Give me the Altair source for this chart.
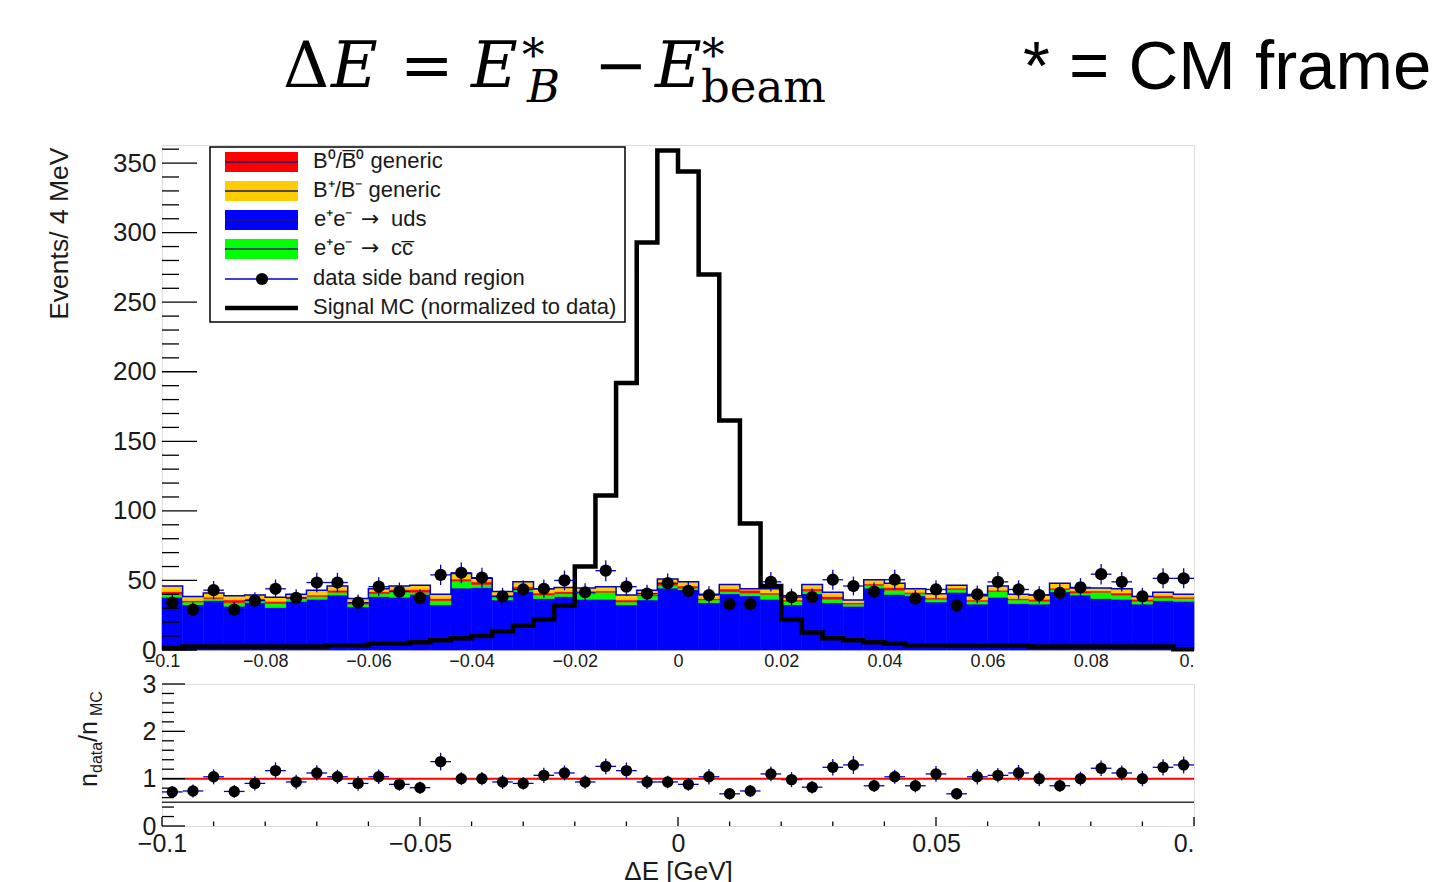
import altair as alt
import numpy as np
import pandas as pd

# ------------------------------------------------------------------ data
BIN_WIDTH = 0.004
bin_lo = [round(-0.1 + BIN_WIDTH * i, 3) for i in range(50)]

# stacked MC backgrounds (events / 4 MeV)
uds = [38, 32.5, 35.5, 31.5, 34, 30.5, 35, 36.5, 39.5, 31,
       38.5, 38, 40, 32.5, 44.5, 45, 36, 42, 37, 38.5,
       36.5, 36.5, 32.5, 36, 44.5, 43, 34, 40.5, 39, 36.5,
       32.5, 40.5, 34, 31.5, 44.5, 40, 39, 34.5, 41.5, 33,
       38, 33.5, 33, 41.5, 39.5, 37, 36.5, 33, 35.5, 35]
ccbar = [2, 2, 1.5, 2.5, 2, 3, 2, 2, 2, 2,
         2, 4, 1.5, 3, 5, 2, 2, 2, 2.5, 2,
         4, 5, 2, 3, 2, 1.5, 2, 1.5, 2, 3.5,
         2.5, 2, 2.5, 1.5, 2, 3, 1.5, 2, 2, 2,
         4, 2.5, 2, 2, 1.5, 4.5, 3, 2, 2, 2]
b0_generic = [2, 1, 1, 2, 1, 1.5, 1, 1, 1.5, 1.5,
              1.5, 1.5, 2, 1.5, 1.5, 2, 1.5, 1.5, 1.5, 1.5,
              1, 1, 1.5, 1, 1.5, 1.5, 1, 2, 2, 1,
              1, 1.5, 2, 1, 1, 2, 1, 1, 1, 1,
              1, 1, 1.5, 1, 1.5, 1, 1.5, 1.5, 1.5, 1]
bplus_generic = [4, 3, 3, 3, 2.5, 3, 2, 3.5, 3, 2.5,
                 2, 2.5, 3, 3, 4, 2.5, 2.5, 3.5, 3, 3,
                 3, 3, 3.5, 3, 3, 3, 3, 3, 1, 3,
                 3, 3, 3, 2, 3, 3, 2.5, 3, 2, 3,
                 3, 3, 3, 3.5, 2, 2, 3, 2, 2.5, 2]

# data side band
data_counts = [34, 29, 43, 29, 35.5, 44, 37.5, 48.5, 48.5, 34,
               45.5, 42, 37.5, 54, 55.5, 52, 38.5, 43.5, 44, 50,
               41.5, 57, 45.5, 40.5, 48, 42.5, 39.5, 33, 33, 49,
               38, 38, 50.5, 46, 42, 50.5, 37, 43.5, 32, 40,
               49, 43.5, 39.5, 41, 45, 54.5, 49, 38.5, 51.5, 51.5]

# signal MC (normalized to data)
signal_mc = [1.5, 2.5, 2.5, 2.5, 2.5, 2.5, 2.5, 2.5, 3.5, 3.5,
             4.5, 4.5, 5.5, 7, 8.5, 10, 13.5, 17.5, 22, 32,
             60, 111, 192, 293, 359, 344, 270, 165, 91, 46,
             22, 12.5, 8.5, 7, 5.5, 4.5, 3.5, 3.5, 3, 3,
             3, 3, 2.5, 2.5, 2.5, 2.5, 2.5, 2.5, 2.5, 0.5]

# ratio n_data / n_MC
ratio_vals = [0.72, 0.74, 1.04, 0.73, 0.90, 1.17, 0.93, 1.12, 1.04, 0.90,
              1.04, 0.88, 0.81, 1.36, 1.00, 1.00, 0.93, 0.90, 1.07, 1.12,
              0.93, 1.26, 1.17, 0.93, 0.93, 0.88, 1.04, 0.68, 0.74, 1.10,
              0.98, 0.82, 1.24, 1.29, 0.85, 1.04, 0.85, 1.10, 0.68, 1.04,
              1.07, 1.12, 1.00, 0.85, 1.00, 1.22, 1.12, 1.00, 1.24, 1.29]

comp_names = ["uds", "ccbar", "b0", "bplus"]
comp_colors = ["#0000ff", "#00ff00", "#ff0000", "#ffcc00"]
comp_values = [uds, ccbar, b0_generic, bplus_generic]

legend_labels = ["B\u2070/B\u0305\u2070 generic", "B\u207a/B\u207b generic",
                 "e\u207ae\u207b \u2192 uds", "e\u207ae\u207b \u2192 cc\u0305",
                 "data side band region", "Signal MC (normalized to data)"]
legend_colors = ["#ff0000", "#ffcc00", "#0000ff", "#00ff00"]

main_y_ticks = [0, 50, 100, 150, 200, 250, 300, 350]
main_y_minor = [v for v in range(0, 361, 10) if v % 50 != 0]
main_x_ticks = [-0.1, -0.08, -0.06, -0.04, -0.02, 0, 0.02, 0.04, 0.06, 0.08, 0.1]
ratio_y_ticks = [0, 1, 2, 3]
ratio_y_minor = [round(0.2 * i, 1) for i in range(15) if i % 5 != 0]
ratio_x_ticks = [-0.1, -0.05, 0, 0.05, 0.1]
ratio_x_minor = [round(-0.1 + 0.01 * i, 2) for i in range(21) if i % 5 != 0]

# ------------------------------------------------------------------ frames
W, H, RH = 1032, 505, 142
FONT = "Liberation Sans"
SERIF = "DejaVu Serif"
BLUE_LINE = "#0000cc"
TXT = "#1a1a1a"

df = pd.DataFrame({"lo": bin_lo, "n": data_counts, "r": ratio_vals, "sig": signal_mc})
df["hi"] = df["lo"] + BIN_WIDTH
df["c"] = df["lo"] + BIN_WIDTH / 2

rows = []
base = np.zeros(50)
for name, vals in zip(comp_names, comp_values):
    v = np.array(vals, dtype=float)
    for i in range(50):
        rows.append({"lo": bin_lo[i], "hi": bin_lo[i] + BIN_WIDTH,
                     "y0": base[i], "y1": base[i] + v[i], "comp": name})
    base = base + v
stack_df = pd.DataFrame(rows)

step_x = bin_lo + [0.1]
total_step = pd.DataFrame({"x": step_x, "y": list(base) + [base[-1]]})
sig_step = pd.DataFrame({"x": step_x, "y": signal_mc + [signal_mc[-1]]})

xs = alt.Scale(domain=[-0.1, 0.1], nice=False, zero=False)
ys = alt.Scale(domain=[0, 363], nice=False)
rs = alt.Scale(domain=[0, 3], nice=False)
label_expr = "datum.value > 0.099 ? '0.' : format(datum.value, '.2~f')"
end_align = alt.condition("datum.value > 0.099", alt.value("right"), alt.value("center"))

MX = alt.Axis(values=main_x_ticks, labelExpr=label_expr, ticks=False, domain=False, grid=False,
              labelFontSize=18, labelPadding=2, title="", labelColor=TXT, labelFont=FONT,
              labelFlush=False, labelAlign=end_align)
MY = alt.Axis(values=main_y_ticks, ticks=False, domain=False, grid=False, labelFontSize=26,
              labelPadding=6, labelColor=TXT, labelFont=FONT,
              title="Events/ 4 MeV", titleAngle=270, titleX=-103, titleY=2, titleAlign="right",
              titleBaseline="middle", titleFontSize=26.5, titleFontWeight="normal",
              titleColor=TXT, titleFont=FONT)
RX = alt.Axis(values=ratio_x_ticks, labelExpr=label_expr, ticks=False, domain=False, grid=False,
              labelFontSize=25, labelPadding=5, labelColor=TXT, labelFont=FONT,
              labelFlush=False, labelAlign=end_align,
              title="\u0394E [GeV]", titleFontSize=26, titleFontWeight="normal", titlePadding=2,
              titleColor=TXT, titleFont=FONT)
RY = alt.Axis(values=ratio_y_ticks, ticks=False, domain=False, grid=False, labelFontSize=25,
              labelPadding=6, labelColor=TXT, labelFont=FONT, title="")

comp_scale = alt.Scale(domain=comp_names, range=comp_colors)

bars = alt.Chart(stack_df).mark_rect(strokeWidth=0.6).encode(
    x=alt.X("lo:Q", scale=xs, axis=MX), x2="hi:Q",
    y=alt.Y("y0:Q", scale=ys, axis=MY), y2="y1:Q",
    color=alt.Color("comp:N", scale=comp_scale, legend=None),
    stroke=alt.Stroke("comp:N", scale=comp_scale, legend=None),
)

total_line = alt.Chart(total_step).mark_line(interpolate="step-after", color=BLUE_LINE,
                                             strokeWidth=1.5).encode(
    x=alt.X("x:Q", scale=xs, axis=MX), y=alt.Y("y:Q", scale=ys, axis=MY))

sig_line = alt.Chart(sig_step).mark_line(interpolate="step-after", color="black",
                                         strokeWidth=4.5).encode(
    x=alt.X("x:Q", scale=xs, axis=MX), y=alt.Y("y:Q", scale=ys, axis=MY))

err_v = alt.Chart(df).transform_calculate(
    a="datum.n - sqrt(datum.n)", b="datum.n + sqrt(datum.n)"
).mark_rule(color=BLUE_LINE, strokeWidth=1.3).encode(
    x=alt.X("c:Q", scale=xs, axis=MX), y=alt.Y("a:Q", scale=ys, axis=MY), y2="b:Q")
err_h = alt.Chart(df).mark_rule(color=BLUE_LINE, strokeWidth=1.3).encode(
    x=alt.X("lo:Q", scale=xs, axis=MX), x2="hi:Q", y=alt.Y("n:Q", scale=ys, axis=MY))
pts = alt.Chart(df).mark_circle(size=150, color="black", opacity=1).encode(
    x=alt.X("c:Q", scale=xs, axis=MX), y=alt.Y("n:Q", scale=ys, axis=MY))

ytick_major = alt.Chart(pd.DataFrame({"v": main_y_ticks})).mark_rule(color="black", strokeWidth=1.3).encode(
    y=alt.Y("v:Q", scale=ys, axis=MY), x=alt.value(0), x2=alt.value(35))
ytick_minor = alt.Chart(pd.DataFrame({"v": main_y_minor})).mark_rule(color="black", strokeWidth=1.3).encode(
    y=alt.Y("v:Q", scale=ys, axis=MY), x=alt.value(0), x2=alt.value(17))

# legend box
leg_layers = [alt.Chart(pd.DataFrame({"k": [0]})).mark_rect(
    fill="white", stroke="black", strokeWidth=1.5).encode(
    x=alt.value(48), x2=alt.value(463), y=alt.value(2), y2=alt.value(177))]
row_y = [17, 46, 75, 104, 134, 163]
for i, lab in enumerate(legend_labels):
    yy = row_y[i]
    one = pd.DataFrame({"label": [lab]})
    if i < 4:
        leg_layers.append(alt.Chart(one).mark_rect(color=legend_colors[i]).encode(
            x=alt.value(63), x2=alt.value(136), y=alt.value(yy - 10), y2=alt.value(yy + 10)))
        leg_layers.append(alt.Chart(one).mark_rule(color="#1a1a7a", strokeWidth=1.4).encode(
            x=alt.value(63), x2=alt.value(136), y=alt.value(yy)))
    elif i == 4:
        leg_layers.append(alt.Chart(one).mark_rule(color=BLUE_LINE, strokeWidth=1.3).encode(
            x=alt.value(63), x2=alt.value(136), y=alt.value(yy)))
        leg_layers.append(alt.Chart(one).mark_circle(size=150, color="black", opacity=1).encode(
            x=alt.value(100), y=alt.value(yy)))
    else:
        leg_layers.append(alt.Chart(one).mark_rule(color="black", strokeWidth=4.5).encode(
            x=alt.value(63), x2=alt.value(136), y=alt.value(yy)))
    if "\u2192" in lab:
        left, right = [s.strip() for s in lab.split("\u2192")]
        parts = [(left, 152, FONT), ("\u2192", 199, "DejaVu Sans"), (right, 229, FONT)]
    else:
        parts = [(lab, 151, FONT)]
    for ptxt, px, pf in parts:
        leg_layers.append(alt.Chart(pd.DataFrame({"label": [ptxt]})).mark_text(
            align="left", baseline="middle", fontSize=22, font=pf, color=TXT).encode(
            x=alt.value(px), y=alt.value(yy - 1), text="label:N"))

# header formula  (x, baseline y relative to plot origin)
header = [
    ("\u0394", 121, -58, 64, "normal", SERIF),
    ("E", 169, -58, 64, "italic", SERIF),
    ("=", 238, -58, 64, "normal", SERIF),
    ("E", 309, -58, 64, "italic", SERIF),
    ("*", 360, -74, 45, "normal", SERIF),
    ("B", 365, -43, 45, "italic", SERIF),
    ("\u2212", 432, -58, 64, "normal", SERIF),
    ("E", 493, -58, 64, "italic", SERIF),
    ("*", 540, -74, 45, "normal", SERIF),
    ("beam", 539, -43, 45, "normal", SERIF),
    ("* = CM frame", 861, -56, 69, "normal", FONT),
]
head_layers = []
for txt, hx, hy, fs, style, fnt in header:
    head_layers.append(alt.Chart(pd.DataFrame({"t": [txt]})).mark_text(
        align="left", baseline="alphabetic", fontSize=fs, fontStyle=style, font=fnt,
        color="black").encode(x=alt.value(hx), y=alt.value(hy), text="t:N"))

main = alt.layer(bars, total_line, sig_line, err_v, err_h, pts, ytick_major, ytick_minor,
                 *leg_layers, *head_layers).properties(width=W, height=H)

# ------------------------------------------------------------------ ratio panel
r_err_h = alt.Chart(df).mark_rule(color=BLUE_LINE, strokeWidth=1.3).encode(
    x=alt.X("lo:Q", scale=xs, axis=RX), x2="hi:Q", y=alt.Y("r:Q", scale=rs, axis=RY))
r_err_v = alt.Chart(df).transform_calculate(
    e="datum.r * sqrt(1 / datum.n)"
).transform_calculate(a="datum.r - datum.e", b="datum.r + datum.e").mark_rule(
    color=BLUE_LINE, strokeWidth=1.3).encode(
    x=alt.X("c:Q", scale=xs, axis=RX), y=alt.Y("a:Q", scale=rs, axis=RY), y2="b:Q")
r_pts = alt.Chart(df).mark_circle(size=130, color="black", opacity=1).encode(
    x=alt.X("c:Q", scale=xs, axis=RX), y=alt.Y("r:Q", scale=rs, axis=RY))
red_line = alt.Chart(pd.DataFrame({"v": [1]})).mark_rule(color="#ff0000", strokeWidth=2).encode(
    y=alt.Y("v:Q", scale=rs, axis=RY))
half_line = alt.Chart(pd.DataFrame({"v": [0.5]})).mark_rule(color="#333333", strokeWidth=1.5).encode(
    y=alt.Y("v:Q", scale=rs, axis=RY))
r_ytick_major = alt.Chart(pd.DataFrame({"v": ratio_y_ticks})).mark_rule(color="black", strokeWidth=1.3).encode(
    y=alt.Y("v:Q", scale=rs, axis=RY), x=alt.value(0), x2=alt.value(23))
r_ytick_minor = alt.Chart(pd.DataFrame({"v": ratio_y_minor})).mark_rule(color="black", strokeWidth=1.3).encode(
    y=alt.Y("v:Q", scale=rs, axis=RY), x=alt.value(0), x2=alt.value(12))
r_xtick_major = alt.Chart(pd.DataFrame({"v": ratio_x_ticks})).mark_rule(color="black", strokeWidth=1.3).encode(
    x=alt.X("v:Q", scale=xs, axis=RX), y=alt.value(RH), y2=alt.value(RH - 9))
r_xtick_minor = alt.Chart(pd.DataFrame({"v": ratio_x_minor})).mark_rule(color="black", strokeWidth=1.3).encode(
    x=alt.X("v:Q", scale=xs, axis=RX), y=alt.value(RH), y2=alt.value(RH - 4.5))

ytitle_parts = [("n", -65, 103, 25), ("data", -60, 89, 16), ("/n", -65, 58, 25), ("MC", -60, 32, 16)]
ytitle_layers = []
for txt, tx, ty, fs in ytitle_parts:
    ytitle_layers.append(alt.Chart(pd.DataFrame({"t": [txt]})).mark_text(
        align="left", baseline="alphabetic", angle=270, fontSize=fs, font=FONT,
        color=TXT).encode(x=alt.value(tx), y=alt.value(ty), text="t:N"))

ratio = alt.layer(r_err_h, half_line, red_line, r_err_v, r_pts, r_ytick_major, r_ytick_minor,
                  r_xtick_major, r_xtick_minor, *ytitle_layers).properties(width=W, height=RH)

chart = alt.vconcat(main, ratio, spacing=0).configure_view(
    stroke="black", strokeWidth=1.5
).configure(font=FONT, background="white").properties(
    padding={"left": 45, "top": 33, "right": 0, "bottom": 0})

chart.save("out.html", embed_options={"renderer": "svg", "actions": False})
